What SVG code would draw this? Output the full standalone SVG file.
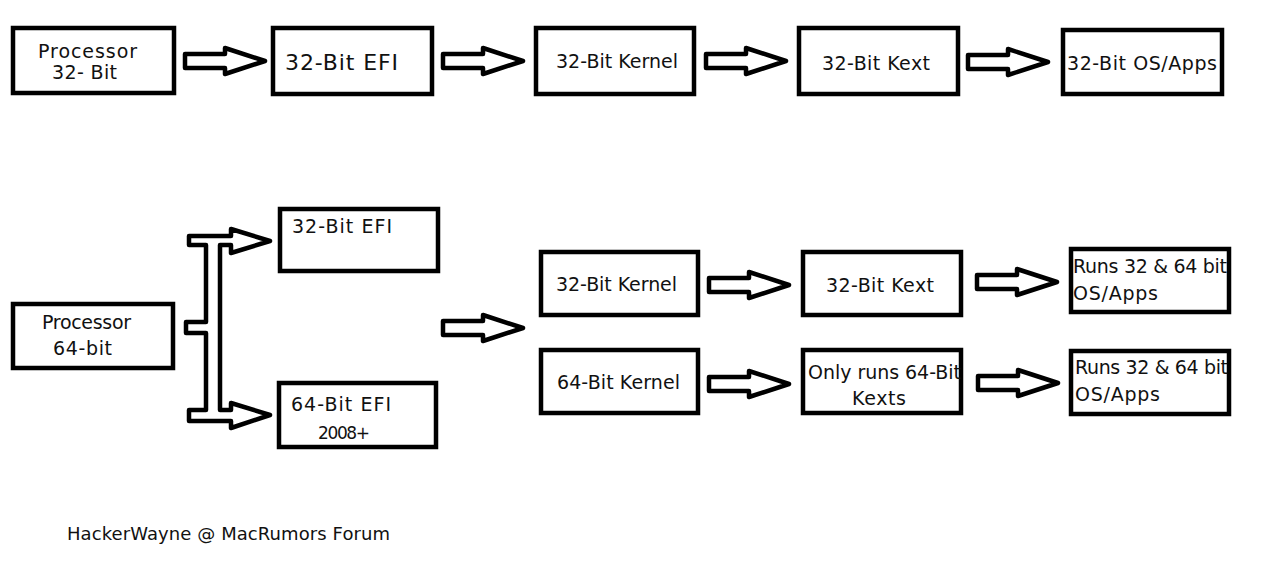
<svg xmlns="http://www.w3.org/2000/svg" width="1278" height="573" viewBox="0 0 1278 573">
<style>
.box{fill:#fff;stroke:#000;stroke-width:4.5}
.arr{fill:#fff;stroke:#000;stroke-width:4.5;stroke-linejoin:round}
text{font-family:"Comic Sans MS","DejaVu Sans",sans-serif;fill:#111;font-size:19px}
.big{font-size:22px}
</style>
<defs>
<path id="arrow" class="arr" d="M0,-7 H40 V-13 L80,0 L40,13 V7 H0 Z"/>
</defs>
<rect width="1278" height="573" fill="#fff"/>
<g id="connectors">
<use href="#arrow" transform="translate(185,61)"/>
<use href="#arrow" transform="translate(443,61)"/>
<use href="#arrow" transform="translate(706,61)"/>
<use href="#arrow" transform="translate(968,62)"/>
<use href="#arrow" transform="translate(443,328)"/>
<use href="#arrow" transform="translate(709,285)"/>
<use href="#arrow" transform="translate(977,282)"/>
<use href="#arrow" transform="translate(709,384)"/>
<use href="#arrow" transform="translate(978,383)"/>
<path class="arr" d="M189,236 H231 V229 L270,241 L231,253 V245 H220 V410 H231 V403 L270,415 L231,428 V421 H189 V410 H206 V333 H186 V322 H206 V245 H189 Z"/>
</g>
<g id="proc32"><rect class="box" x="13" y="28" width="161" height="65"/>
<text x="38" y="58" textLength="99">Processor</text><text x="52" y="79" textLength="65">32- Bit</text></g>
<g id="efi32top"><rect class="box" x="273" y="28" width="159" height="66"/>
<text class="big" x="285" y="70" textLength="113">32-Bit EFI</text></g>
<g id="kernel32top"><rect class="box" x="536" y="28" width="158" height="66"/>
<text x="556" y="68" textLength="122">32-Bit Kernel</text></g>
<g id="kext32top"><rect class="box" x="799" y="28" width="159" height="66"/>
<text x="822" y="70" textLength="108">32-Bit Kext</text></g>
<g id="apps32top"><rect class="box" x="1063" y="30" width="159" height="64"/>
<text x="1067" y="70" textLength="150">32-Bit OS/Apps</text></g>
<g id="proc64"><rect class="box" x="13" y="304" width="160" height="64"/>
<text x="42" y="329" textLength="89">Processor</text><text x="53" y="355" textLength="59">64-bit</text></g>
<g id="efi32"><rect class="box" x="280" y="209" width="158" height="62"/>
<text x="292" y="233" textLength="100">32-Bit EFI</text></g>
<g id="efi64"><rect class="box" x="279" y="383" width="157" height="64"/>
<text x="291" y="411" textLength="100">64-Bit EFI</text><text x="318" y="439" style="font-size:17px" textLength="52">2008+</text></g>
<g id="kernel32"><rect class="box" x="541" y="252" width="157" height="63"/>
<text x="556" y="291" textLength="121">32-Bit Kernel</text></g>
<g id="kext32"><rect class="box" x="803" y="252" width="158" height="63"/>
<text x="826" y="292" textLength="108">32-Bit Kext</text></g>
<g id="runs1"><rect class="box" x="1071" y="249" width="158" height="63"/>
<text x="1073" y="273" textLength="154">Runs 32 &amp; 64 bit</text><text x="1073" y="300" textLength="85">OS/Apps</text></g>
<g id="kernel64"><rect class="box" x="541" y="350" width="157" height="63"/>
<text x="557" y="389" textLength="123">64-Bit Kernel</text></g>
<g id="kext64"><rect class="box" x="803" y="350" width="158" height="63"/>
<text x="808" y="379" textLength="153">Only runs 64-Bit</text><text x="852" y="405" textLength="54">Kexts</text></g>
<g id="runs2"><rect class="box" x="1071" y="351" width="158" height="63"/>
<text x="1075" y="374" textLength="153">Runs 32 &amp; 64 bit</text><text x="1075" y="401" textLength="85">OS/Apps</text></g>
<g id="footer"><text x="67" y="540" textLength="323" style="font-size:18px">HackerWayne @ MacRumors Forum</text></g>
</svg>
